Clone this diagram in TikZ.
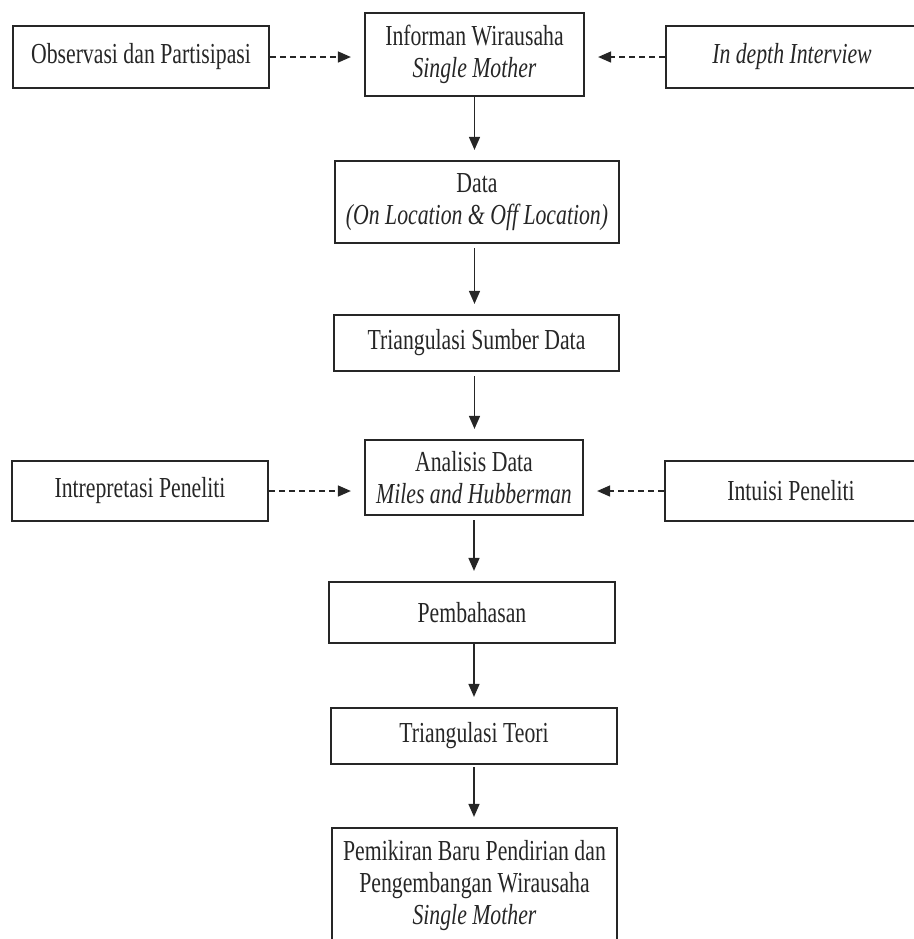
\documentclass[tikz,border=0pt]{standalone}
\usepackage{fontspec}
\setmainfont{Liberation Serif}[FakeStretch=0.75]
\usetikzlibrary{arrows.meta}
\definecolor{ink}{HTML}{262626}
\begin{document}
\begin{tikzpicture}[x=0.5pt,y=-0.5pt,
  box/.style={draw=ink, line width=1.1pt, inner sep=0pt, align=center, text=ink,
    font=\fontsize{14.5}{16.3}\selectfont},
  txt/.style={inner sep=0pt, align=center, text=ink, font=\fontsize{14.5}{16}\selectfont},
  flow/.style={draw=ink, line width=0.75pt, -{Triangle[length=6.5pt,width=5.5pt]}, shorten >=5pt},
  aux/.style={flow, dash pattern=on 3pt off 2pt, shorten >=6.5pt}]
\useasboundingbox (0,0) rectangle (914,939);
\clip (0,0) rectangle (914,939);
\node[box, minimum width=128pt, minimum height=31pt] (obs) at (141,57) {Observasi dan Partisipasi};
\node[box, minimum width=109.5pt, minimum height=41.5pt] (inf) at (474.5,54.5) {Informan Wirausaha\\\textit{Single Mother}};
\node[box, minimum width=126pt, minimum height=31pt] (ind) at (792,57) {\textit{In depth Interview}};
\node[box, minimum width=142pt, minimum height=41pt] (data) at (477,202) {Data\\\textit{(On Location \& Off Location)}};
\node[box, minimum width=142.5pt, minimum height=28pt] (tsd) at (476.5,343) {Triangulasi Sumber Data};
\node[box, minimum width=109pt, minimum height=37.5pt] (ana) at (474,477.5) {Analisis Data\\\textit{Miles and Hubberman}};
\node[box, minimum width=128pt, minimum height=30pt] (int) at (140,491) {Intrepretasi Peneliti};
\node[box, minimum width=126pt, minimum height=30pt] (intu) at (791,491) {Intuisi Peneliti};
\node[box, minimum width=143pt, minimum height=30.5pt] (pem) at (472,612.5) {Pembahasan};
\node[box, minimum width=143pt, minimum height=28pt] (tt) at (474,736) {Triangulasi Teori};
\node[box, minimum width=142.5pt, minimum height=62pt] (fin) at (474.5,890) {};
\node[txt] (fintxt) at (474.5,885.5) {Pemikiran Baru Pendirian dan\\Pengembangan Wirausaha\\\textit{Single Mother}};
\draw[aux] (obs.east) -- (obs.east -| inf.west);
\draw[aux] (ind.west) -- (ind.west -| inf.east);
\draw[flow] (inf.south) -- (inf.south |- data.north);
\draw[flow, shorten <=2pt] (inf.south |- data.south) -- (inf.south |- tsd.north);
\draw[flow, shorten <=2pt] (inf.south |- tsd.south) -- (inf.south |- ana.north);
\draw[aux] (int.east) -- (int.east -| ana.west);
\draw[aux] (intu.west) -- (intu.west -| ana.east);
\draw[flow, shorten <=2pt] (ana.south) -- (ana.south |- pem.north);
\draw[flow] (ana.south |- pem.south) -- (ana.south |- tt.north);
\draw[flow, shorten <=1pt] (ana.south |- tt.south) -- (ana.south |- fin.north);
\end{tikzpicture}
\end{document}
